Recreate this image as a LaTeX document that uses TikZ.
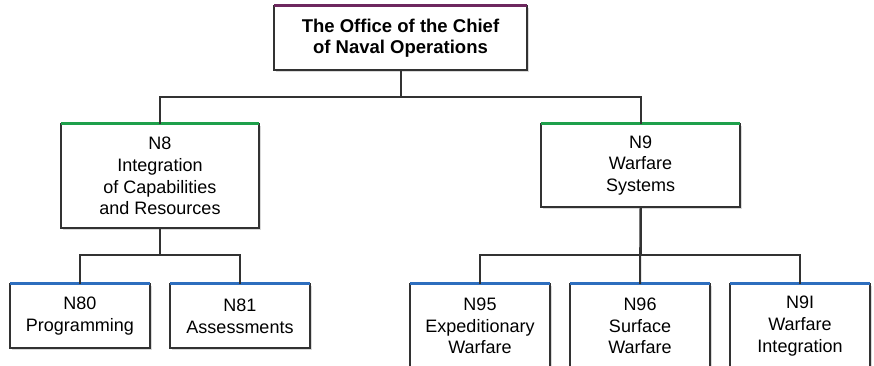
\documentclass[tikz,border=0pt]{standalone}
\usepackage{fontspec}
\setmainfont{Liberation Sans}
\usetikzlibrary{positioning, shadows}
\definecolor{cnopurple}{RGB}{110,40,95}
\definecolor{ngreen}{RGB}{30,160,75}
\definecolor{nblue}{RGB}{45,110,190}
\definecolor{linegray}{RGB}{50,50,50}

\begin{document}
\begin{tikzpicture}[x=1pt, y=1pt,
    office/.style={draw=linegray, line width=2pt, fill=white, align=center,
        inner sep=0pt, outer sep=0pt,
        drop shadow={shadow xshift=2pt, shadow yshift=-2pt, opacity=0.3},
        font=\fontsize{18}{21.7}\selectfont},
    link/.style={draw=linegray, line width=2pt},
    stripe/.style={line width=3pt}]
    \useasboundingbox (0,0) rectangle (874,366);

    % Top level
    \node[office, minimum width=253, minimum height=64,
        font=\bfseries\fontsize{18.5}{21}\selectfont] (cno) at (400.5,328)
        {The Office of the Chief\\of Naval Operations};

    % Second level
    \node[office, minimum width=198, minimum height=104] (n8) at (160,190)
        {N8\\Integration\\of Capabilities\\and Resources};
    \node[office, minimum width=199, minimum height=83] (n9) at (640.5,200.5)
        {N9\\Warfare\\Systems};

    % Third level
    \node[office, minimum width=140, minimum height=64] (n80) at (80,50)
        {N80\\Programming};
    \node[office, minimum width=140, minimum height=64] (n81) at (240,50)
        {N81\\Assessments};
    \node[office, minimum width=140, minimum height=84] (n95) at (480,40)
        {N95\\Expeditionary\\Warfare};
    \node[office, minimum width=140, minimum height=84] (n96) at (640,40)
        {N96\\Surface\\Warfare};
    \node[office, minimum width=140, minimum height=84] (n9i) at (800,40)
        {N9I\\Warfare\\Integration};

    % Coloured top edges
    \draw[stripe, cnopurple] (cno.north west) -- (cno.north east);
    \foreach \n in {n8,n9}
        \draw[stripe, ngreen] (\n.north west) -- (\n.north east);
    \foreach \n in {n80,n81,n95,n96,n9i}
        \draw[stripe, nblue] (\n.north west) -- (\n.north east);

    % Connectors
    \draw[link] (cno.south) -- ++(0,-27) -| (n8.north);
    \draw[link] (cno.south) -- ++(0,-27) -| (n9.north);
    \draw[link] (n8.south) -- ++(0,-27) -| (n80.north);
    \draw[link] (n8.south) -- ++(0,-27) -| (n81.north);
    \draw[link] (n9.south) -- (n96.north);
    \draw[link] (n9.south) -- ++(0,-48) -| (n95.north);
    \draw[link] (n9.south) -- ++(0,-48) -| (n9i.north);
\end{tikzpicture}
\end{document}
